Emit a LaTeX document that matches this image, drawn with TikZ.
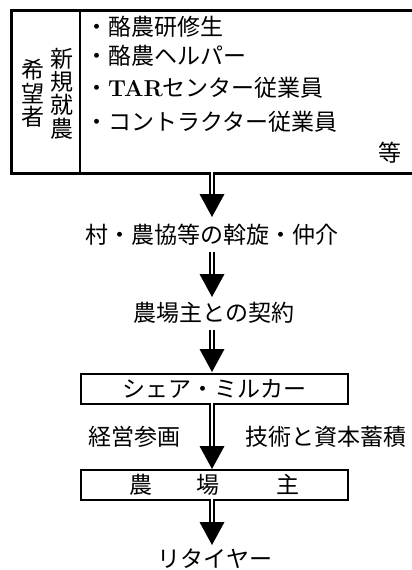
\documentclass[tikz,border=0pt]{standalone}
\usepackage{fontspec}
\newfontfamily\jp{Noto Sans CJK JP}
\usetikzlibrary{calc}
\newcommand{\dblarrow}[2]{%
  \draw[shaft] (#1) -- ($(#2)+(0,-22)$);
  \fill ($(#2)+(-12.5,-23)$) -- ($(#2)+(12.5,-23)$) -- (#2) -- cycle;}
\begin{document}
\begin{tikzpicture}[x=1pt,y=-1pt,
  every node/.style={font=\jp\fontsize{23}{23.3}\selectfont, inner sep=0pt},
  box/.style={draw, line width=2.5pt, minimum width=267pt, minimum height=30pt},
  shaft/.style={double, double distance=2pt, line width=2.2pt}]
\useasboundingbox (0,0) rectangle (412,570);
% top box (right edge lies beyond the page)
\node[draw, line width=2.5pt, minimum width=404pt, minimum height=163pt, anchor=north west] (top) at (10,9) {};
\coordinate (divt) at (80,9);
\coordinate (divb) at (80,172);
\draw[line width=2.5pt] (divt) -- (divb);
\node[align=center] (v1) at (62,93.5) {新\\規\\就\\農};
\node[align=center] (v2) at (33,93.5) {希\\望\\者};
\node[anchor=west] (i1) at (85,27) {・酪農研修生};
\node[anchor=west] (i2) at (85,56) {・酪農ヘルパー};
\node[anchor=west] (i3) at (85,88) {・{\normalfont\bfseries TAR}センター従業員};
\node[anchor=west] (i4) at (85,122) {・コントラクター従業員};
\node (etc) at (390,153) {等};
% flow
\node (t1) at (212,235) {村・農協等の斡旋・仲介};
\node (t2) at (214,313) {農場主との契約};
\node[box] (shear) at (214.5,389) {シェア・ミルカー};
\node (l1) at (134,437) {経営参画};
\node (l2) at (326,437) {技術と資本蓄積};
\node[box] (farm) at (214.5,485) {農\hspace{44pt}場\hspace{58pt}主};
\node (t3) at (215,559) {リタイヤー};
% arrow coordinates
\coordinate (s1) at (212,172);   \coordinate (e1) at (212,217);
\coordinate (s2) at (212,252);   \coordinate (e2) at (212,297);
\coordinate (s3) at (212,330);   \coordinate (e3) at (212,372);
\coordinate (s4) at (212,403);   \coordinate (e4) at (212,469);
\coordinate (s5) at (212,499);   \coordinate (e5) at (212,545);
\dblarrow{s1}{e1}
\dblarrow{s2}{e2}
\dblarrow{s3}{e3}
\dblarrow{s4}{e4}
\dblarrow{s5}{e5}
\end{tikzpicture}
\end{document}
